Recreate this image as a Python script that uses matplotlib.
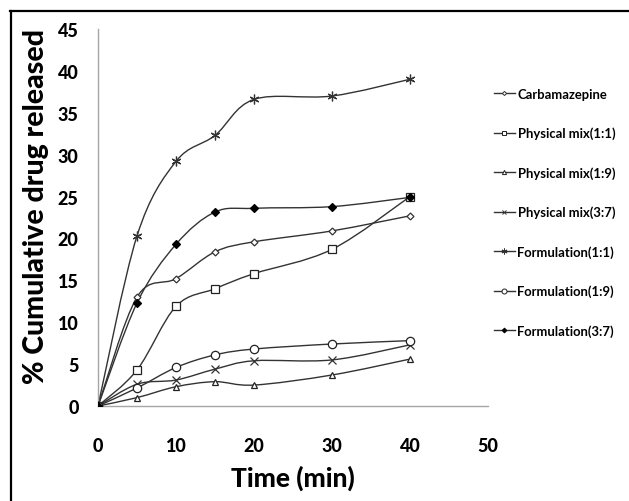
import numpy as np
import matplotlib
matplotlib.use("Agg")
import matplotlib.pyplot as plt
from matplotlib.path import Path
from matplotlib.patches import PathPatch
from matplotlib.lines import Line2D

plt.rcParams['font.family'] = ['Lato', 'DejaVu Sans']

time = [0, 5, 10, 15, 20, 30, 40]
labels = ["Carbamazepine", "Physical mix(1:1)", "Physical mix(1:9)", "Physical mix(3:7)",
          "Formulation(1:1)", "Formulation(1:9)", "Formulation(3:7)"]
carbamazepine = [0, 13.0, 15.2, 18.4, 19.6, 20.9, 22.7]
physical_1_1 = [0, 4.3, 11.9, 14.0, 15.8, 18.7, 25.0]
physical_1_9 = [0, 1.0, 2.3, 2.9, 2.5, 3.7, 5.6]
physical_3_7 = [0, 2.6, 3.1, 4.4, 5.4, 5.5, 7.3]
formulation_1_1 = [0, 20.3, 29.2, 32.3, 36.6, 37.0, 39.0]
formulation_1_9 = [0, 2.15, 4.6, 6.1, 6.8, 7.4, 7.8]
formulation_3_7 = [0, 12.3, 19.3, 23.15, 23.6, 23.8, 24.9]
xticks = [0, 10, 20, 30, 40, 50]
yticks = [0, 5, 10, 15, 20, 25, 30, 35, 40, 45]

series = [carbamazepine, physical_1_1, physical_1_9, physical_3_7,
          formulation_1_1, formulation_1_9, formulation_3_7]
styles = [
    dict(marker='D', ms=3.5, mfc='white', mec='#333333'),
    dict(marker='s', ms=6, mfc='white', mec='#222222'),
    dict(marker='^', ms=5, mfc='white', mec='#222222'),
    dict(marker='x', ms=6, mfc='none', mec='#333333'),
    dict(marker=(6, 2, 0), ms=7, mfc='none', mec='#333333'),
    dict(marker='o', ms=6, mfc='white', mec='#222222'),
    dict(marker='D', ms=4, mfc='black', mec='black'),
]

W, H = 629, 502
fig = plt.figure(figsize=(W / 100, H / 100), dpi=100)
ax = fig.add_axes([98 / W, (H - 407) / H, 390 / W, 377 / H])


def smooth_path(x, y):
    pts = np.column_stack([x, y]).astype(float)
    n = len(pts)
    verts = [pts[0]]
    codes = [Path.MOVETO]
    for i in range(n - 1):
        p0 = pts[i - 1] if i > 0 else pts[i]
        p1 = pts[i]
        p2 = pts[i + 1]
        p3 = pts[i + 2] if i + 2 < n else pts[i + 1]
        c1 = p1 + (p2 - p0) / 6.0
        c2 = p2 - (p3 - p1) / 6.0
        verts += [c1, c2, p2]
        codes += [Path.CURVE4] * 3
    return Path(verts, codes)


handles = []
for vals, st, lab in zip(series, styles, labels):
    ax.add_patch(PathPatch(smooth_path(time, vals), fill=False, edgecolor='#333333', lw=1.0, zorder=2))
    ax.plot(time, vals, linestyle='none', marker=st['marker'], ms=st['ms'],
            mfc=st['mfc'], mec=st['mec'], mew=0.9, zorder=3)
    handles.append(Line2D([], [], color='#333333', lw=1.0, marker=st['marker'],
                          ms=st['ms'] * 0.6, mfc=st['mfc'], mec=st['mec'], mew=0.7))

ax.set_xlim(0, 50)
ax.set_ylim(0, 45)
ax.set_xticks(xticks)
ax.set_yticks(yticks)
for s in ['top', 'right']:
    ax.spines[s].set_visible(False)
for s in ['left', 'bottom']:
    ax.spines[s].set_color('#a6a6a6')
    ax.spines[s].set_linewidth(1.0)
ax.tick_params(axis='both', length=0, labelsize=13)
ax.tick_params(axis='y', pad=14)
ax.tick_params(axis='x', pad=22)
for t in ax.get_xticklabels() + ax.get_yticklabels():
    t.set_fontweight('black')

fig.text(36 / W, 1 - 207 / H, "% Cumulative drug released", rotation=90,
         ha='center', va='center', fontsize=20.5, fontweight='black')
fig.text(293 / W, 1 - 478 / H, "Time (min)", ha='center', va='center',
         fontsize=19, fontweight='black')

leg = fig.legend(handles, labels, loc='upper left', bbox_to_anchor=(494 / W, 1 - 89 / H),
                 frameon=False, fontsize=9.4, handlelength=1.6, handletextpad=0.2,
                 labelspacing=2.05, borderpad=0, borderaxespad=0)
for t in leg.get_texts():
    t.set_fontweight('bold')

# frame: top and left borders only
fig.add_artist(Line2D([10 / W, 1.0], [1 - 12 / H, 1 - 12 / H], transform=fig.transFigure,
                      color='black', lw=1.6))
fig.add_artist(Line2D([11 / W, 11 / W], [0, 1 - 12 / H], transform=fig.transFigure,
                      color='black', lw=1.6))

fig.savefig("out.png", dpi=100)
